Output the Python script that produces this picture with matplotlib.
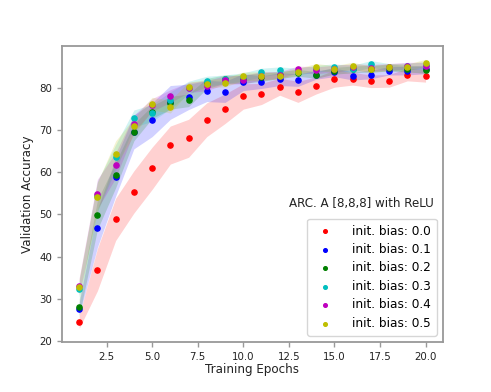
import matplotlib
matplotlib.use("Agg")
import matplotlib.pyplot as plt
import numpy as np

epochs = np.arange(1, 21)

# mean validation accuracy per init. bias
acc_00 = [24.5, 36.9, 48.8, 55.3, 60.9, 66.4, 68.0, 72.4, 75.0, 77.9, 78.5, 80.2, 79.0, 80.5, 82.1, 82.1, 81.5, 81.6, 83.1, 82.8]
acc_01 = [27.6, 46.7, 58.8, 69.5, 72.4, 76.5, 77.8, 79.2, 79.0, 81.3, 81.3, 82.0, 81.8, 83.0, 83.6, 82.8, 83.1, 84.0, 84.0, 84.3]
acc_02 = [28.0, 49.9, 59.3, 69.4, 74.2, 76.4, 77.0, 81.0, 82.0, 82.0, 82.5, 83.0, 83.5, 83.0, 84.0, 84.3, 84.5, 84.7, 84.5, 84.2]
acc_03 = [32.3, 54.3, 63.5, 72.7, 74.0, 77.0, 80.0, 81.5, 82.0, 82.5, 83.6, 84.1, 83.8, 84.5, 84.8, 84.5, 85.6, 84.9, 85.0, 85.3]
acc_04 = [33.0, 54.8, 61.6, 71.5, 75.9, 78.0, 80.0, 80.5, 81.8, 81.9, 82.8, 83.0, 84.3, 84.1, 84.5, 84.8, 84.7, 84.9, 85.2, 85.2]
acc_05 = [32.7, 54.1, 64.4, 70.8, 76.2, 75.5, 80.1, 80.9, 81.2, 82.7, 82.7, 82.8, 83.8, 84.9, 84.4, 85.2, 84.3, 84.9, 84.8, 85.9]

# spread (std) per init. bias
std_00 = [1.5, 5.0, 5.0, 5.0, 5.0, 4.5, 4.5, 4.0, 3.5, 3.0, 2.5, 2.0, 2.5, 2.0, 2.0, 1.5, 1.5, 1.5, 1.5, 1.5]
std_01 = [1.5, 4.5, 4.5, 4.0, 4.0, 4.0, 3.0, 2.5, 2.5, 2.0, 1.5, 1.5, 1.5, 1.0, 1.0, 1.0, 1.0, 1.0, 1.0, 1.0]
std_02 = [2.0, 3.5, 3.0, 2.0, 1.5, 1.5, 1.5, 1.2, 1.0, 1.0, 1.0, 0.8, 0.8, 0.8, 0.8, 0.8, 0.8, 0.8, 0.8, 0.8]
std_03 = [2.0, 3.5, 3.0, 2.0, 2.0, 2.0, 1.5, 1.2, 1.0, 1.0, 1.0, 0.8, 0.8, 0.8, 0.8, 0.8, 0.8, 0.8, 0.8, 0.8]
std_04 = [2.0, 3.5, 3.0, 2.0, 1.5, 1.5, 1.2, 1.2, 1.0, 1.0, 1.0, 0.8, 0.8, 0.8, 0.8, 0.8, 0.8, 0.8, 0.8, 0.8]
std_05 = [2.0, 3.5, 3.0, 2.0, 1.5, 1.5, 1.2, 1.0, 1.0, 1.0, 1.0, 0.8, 0.8, 0.8, 0.8, 0.8, 0.8, 0.8, 0.8, 0.8]

biases = ["0.0", "0.1", "0.2", "0.3", "0.4", "0.5"]
colors = ["r", "b", "g", "c", "m", "y"]
accs = [acc_00, acc_01, acc_02, acc_03, acc_04, acc_05]
stds = [std_00, std_01, std_02, std_03, std_04, std_05]

fig = plt.figure(figsize=(4.91, 3.92), dpi=100)
ax = fig.add_axes([0.126, 0.128, 0.776, 0.755])

for b, c, a, s in zip(biases, colors, accs, stds):
    a = np.array(a)
    s = np.array(s)
    ax.scatter(epochs, a, color=c, s=14, label=f"init. bias: {b}", zorder=3)
    ax.fill_between(epochs, a - s, a + s, color=c, alpha=0.18, linewidth=0)

for sp in ax.spines.values():
    sp.set_color("#999999")
    sp.set_linewidth(1.3)
ax.tick_params(colors="#999999", labelcolor="#222222", labelsize=7.4, width=1)

ax.set_xlabel("Training Epochs", fontsize=8.6, color="#222222", labelpad=1)
ax.set_ylabel("Validation Accuracy", fontsize=8.6, color="#222222")

ax.text(0.975, 0.445, "ARC. A [8,8,8] with ReLU", transform=ax.transAxes,
        ha="right", va="bottom", fontsize=8.6, color="#222222")
ax.legend(loc="lower right", fontsize=8.7, markerscale=0.7, handletextpad=1.2,
          labelspacing=0.45, borderpad=0.5)

plt.savefig("out.png", dpi=100)
